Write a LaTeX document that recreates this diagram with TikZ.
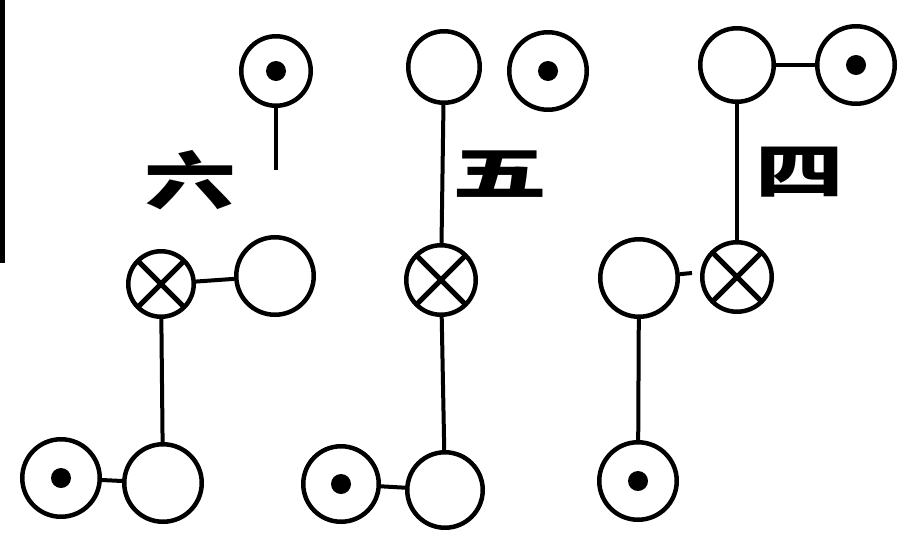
\documentclass[tikz,border=0pt]{standalone}
\usepackage{fontspec}
\newfontfamily\cjk{Noto Sans CJK SC}
\usepackage{graphicx}
\usepackage{tikz}
\tikzset{
  ring/.style={circle, draw, line width=0.9mm, inner sep=0pt, minimum size=15mm},
  openring/.style={ring},
  dotring/.style={ring, path picture={\fill (path picture bounding box.center) circle (2mm);}},
  crossring/.style={ring, minimum size=13.6mm,
    path picture={\draw[line width=1mm]
      (path picture bounding box.north west) -- (path picture bounding box.south east)
      (path picture bounding box.north east) -- (path picture bounding box.south west);}},
  link/.style={line width=0.8mm},
  numlabel/.style={font=\cjk\bfseries\fontsize{36}{36}\selectfont, inner sep=0pt},
}

\begin{document}
\begin{tikzpicture}[x=0.2mm, y=-0.2mm]
  \useasboundingbox (0,0) rectangle (916,556);
  % frame remnant at the left edge
  \coordinate (frameTop) at (2,0);
  \coordinate (frameBot) at (2,263);
  \draw[line width=1mm] (frameTop) -- (frameBot);

  % six
  \node[dotring, minimum size=13.9mm] (sixTop) at (276,71) {};
  \coordinate (sixEnd) at (276,170);
  \node[numlabel] (sixLbl) at (190,180) {\scalebox{1.45}[1]{六}};
  \node[crossring, minimum size=13.1mm] (sixX) at (161,284) {};
  \node[openring, minimum size=15.5mm] (sixR) at (275,276) {};
  \node[openring, minimum size=15.5mm] (sixB) at (163,483) {};
  \node[dotring, minimum size=15.5mm] (sixD) at (61,478) {};
  \draw[link] (sixTop) -- (sixEnd);
  \draw[link] (sixX) -- (sixR);
  \draw[link] (sixX) -- (sixB);
  \draw[link] (sixD) -- (sixB);

  % five
  \node[openring, minimum size=14.3mm] (fiveT) at (444,67) {};
  \node[dotring, minimum size=15.5mm] (fiveD1) at (548,71) {};
  \node[numlabel] (fiveLbl) at (500,174) {\scalebox{1.5}[0.9]{五}};
  \node[crossring, minimum size=13.9mm] (fiveX) at (441,280) {};
  \node[openring, minimum size=15.1mm] (fiveB) at (445,490) {};
  \node[dotring, minimum size=15.1mm] (fiveD2) at (341,484) {};
  \draw[link] (fiveT) -- (fiveX);
  \draw[link] (fiveX) -- (fiveB);
  \draw[link] (fiveD2) -- (fiveB);

  % four
  \node[openring, minimum size=14.7mm] (fourT) at (737,65) {};
  \node[dotring, minimum size=15.5mm] (fourD1) at (856,65) {};
  \node[numlabel] (fourLbl) at (800,172) {\scalebox{1.4}[0.95]{四}};
  \node[crossring, minimum size=13.9mm] (fourX) at (737,277) {};
  \node[openring, minimum size=15.5mm] (fourL) at (639,278) {};
  \coordinate (fourNub) at (692,273);
  \node[dotring, minimum size=15.5mm] (fourD2) at (638,481) {};
  \draw[link] (fourT) -- (fourD1);
  \draw[link] (fourT) -- (fourX);
  \draw[link] (fourL) -- (fourNub);
  \draw[link] (fourL) -- (fourD2);
\end{tikzpicture}
\end{document}
